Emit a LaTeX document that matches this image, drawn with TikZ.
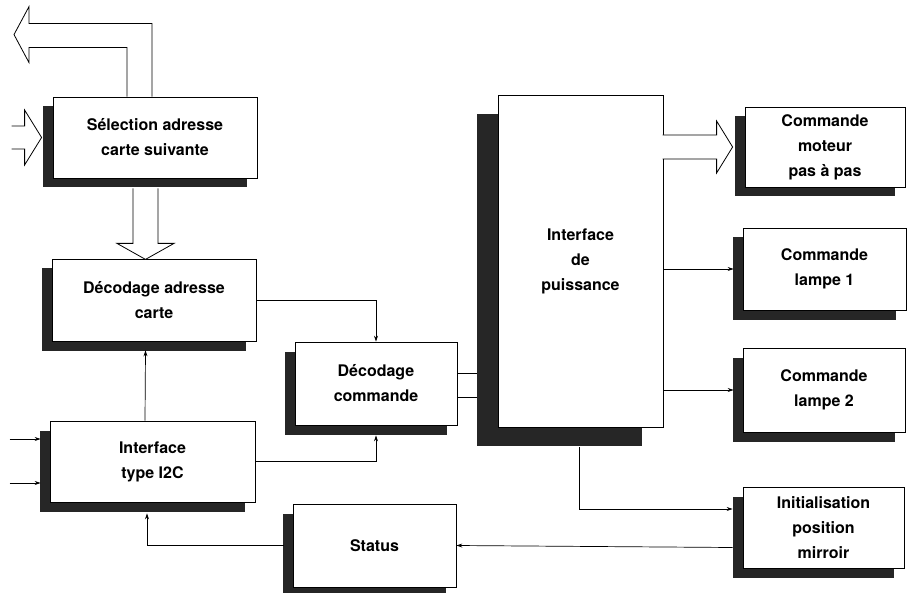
\documentclass[tikz,border=0pt]{standalone}
\usepackage{fontspec}
\setmainfont{TeX Gyre Heros}
\usetikzlibrary{shadows,arrows.meta}
\begin{document}
\begin{tikzpicture}[x=1pt,y=-1pt,
  basebox/.style={draw=black, line width=0.8pt, fill=white, align=center, inner sep=0pt,
    font=\bfseries\fontsize{16}{25}\selectfont},
  box/.style={basebox, drop shadow={shadow xshift=-10pt, shadow yshift=-9.5pt, fill=black!85, opacity=1}},
  bigbox/.style={basebox, drop shadow={shadow xshift=-21pt, shadow yshift=-19pt, fill=black!85, opacity=1}},
  arr/.style={line width=0.7pt, -{Stealth[length=6pt,width=4pt]}},
  ln/.style={line width=0.7pt},
  hollow/.style={draw=black, line width=0.8pt, fill=white, line join=miter}]
\useasboundingbox (0,0) rectangle (912,593);

% boxes
\node[box, minimum width=204pt, minimum height=81pt] (sel) at (155,137.5) {Sélection adresse\\carte suivante};
\node[box, minimum width=204pt, minimum height=82pt] (deca) at (154,300) {Décodage adresse\\carte};
\node[box, minimum width=205pt, minimum height=81pt] (i2c) at (152.5,461.5) {Interface\\type I2C};
\node[box, minimum width=162pt, minimum height=83pt] (decc) at (376,383.5) {Décodage\\commande};
\node[box, minimum width=163pt, minimum height=83pt] (status) at (374.5,545.5) {Status};
\node[bigbox, minimum width=165pt, minimum height=332pt] (idp) at (580.5,261) {Interface\\de\\puissance};
\node[box, minimum width=160pt, minimum height=80pt] (mot) at (825,147) {Commande\\moteur\\pas à pas};
\node[box, minimum width=163pt, minimum height=82pt] (l1) at (824.5,269) {Commande\\lampe 1};
\node[box, minimum width=162pt, minimum height=84pt] (l2) at (824,390) {Commande\\lampe 2};
\node[box, minimum width=161pt, minimum height=81pt] (init) at (823.5,527.5) {Initialisation\\position\\mirroir};

% hollow bus arrows
\draw[hollow] ([xshift=-28pt]sel.north) -- ++(0,-49) -- ++(-98,0) -- ++(0,15)
  -- ++(-15,-28) -- ++(15,-28) -- ++(0,17) -- ++(123,0) -- ++(0,73);
\draw[hollow] ([xshift=-41pt,yshift=11.5pt]sel.west) -- ++(13,0) -- ++(0,-16)
  -- ++(17,27.5) -- ++(-17,27.5) -- ++(0,-16) -- ++(-13,0);
\draw[hollow] ([xshift=-22pt,yshift=-10pt]sel.south) -- ++(0,55) -- ++(-16,0)
  -- ++(28.5,16) -- ++(28.5,-16) -- ++(-16,0) -- ++(0,-55);
\draw[hollow] ([xshift=-82pt,yshift=12pt]mot.west) -- ++(54,0) -- ++(0,-14)
  -- ++(16,26) -- ++(-16,26) -- ++(0,-14) -- ++(-54,0);

% input arrows
\draw[arr] ([xshift=-40pt,yshift=22.5pt]i2c.west) -- ([xshift=-9pt,yshift=22.5pt]i2c.west);
\draw[arr] ([xshift=-40pt,yshift=-21.5pt]i2c.west) -- ([xshift=-9pt,yshift=-21.5pt]i2c.west);

% connectors
\draw[arr] ([xshift=-7.5pt]i2c.north) -- ([xshift=-8.5pt,yshift=-9pt]deca.south);
\draw[arr] (deca.east) -| (decc.north);
\draw[arr] (i2c.east) -| ([yshift=-10pt]decc.south);
\draw[arr] ([xshift=-9pt]status.west) -| ([xshift=-5.5pt,yshift=-11pt]i2c.south);
\draw[arr] ([xshift=-10pt,yshift=-20pt]init.west) -- (status.east);
\draw[arr] ([xshift=-1.5pt,yshift=-20pt]idp.south) |- ([xshift=-10pt,yshift=18.5pt]init.west);
\draw[arr] (idp.east |- l1.west) -- ([xshift=-9pt]l1.west);
\draw[arr] (idp.east |- l2.west) -- ([xshift=-9pt]l2.west);
\coordinate (idpsh) at ([xshift=-21pt]idp.west);
\coordinate (d1) at ([yshift=10.5pt]decc.east);
\coordinate (d2) at ([yshift=-13.5pt]decc.east);
\draw[ln] (d1) -- (d1 -| idpsh);
\draw[ln] (d2) -- (d2 -| idpsh);
\end{tikzpicture}
\end{document}
